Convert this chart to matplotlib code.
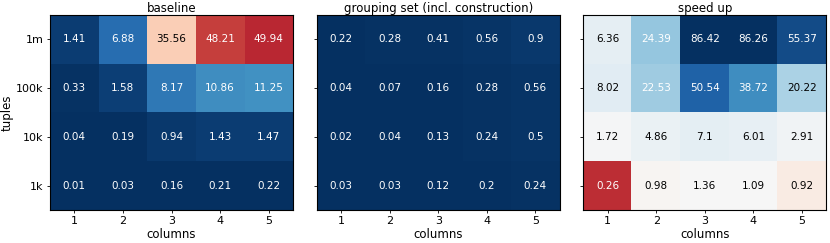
import matplotlib
import numpy as np
from matplotlib import pyplot as plt
from matplotlib.colors import Normalize, TwoSlopeNorm

matplotlib.use("Agg")

columns = ["1", "2", "3", "4", "5"]
tuples = ["1m", "100k", "10k", "1k"]

baseline = np.array([
    [1.41, 6.88, 35.56, 48.21, 49.94],
    [0.33, 1.58, 8.17, 10.86, 11.25],
    [0.04, 0.19, 0.94, 1.43, 1.47],
    [0.01, 0.03, 0.16, 0.21, 0.22],
])
grouping = np.array([
    [0.22, 0.28, 0.41, 0.56, 0.9],
    [0.04, 0.07, 0.16, 0.28, 0.56],
    [0.02, 0.04, 0.13, 0.24, 0.5],
    [0.03, 0.03, 0.12, 0.2, 0.24],
])
speedup = np.array([
    [6.36, 24.39, 86.42, 86.26, 55.37],
    [8.02, 22.53, 50.54, 38.72, 20.22],
    [1.72, 4.86, 7.1, 6.01, 2.91],
    [0.26, 0.98, 1.36, 1.09, 0.92],
])

panels = [
    (baseline, "baseline", "RdBu_r", Normalize(vmin=0, vmax=57)),
    (grouping, "grouping set (incl. construction)", "RdBu_r", Normalize(vmin=0, vmax=57)),
    (speedup, "speed up", "RdBu", TwoSlopeNorm(vmin=0, vcenter=1, vmax=62)),
]
lefts = [50 / 830, 316.7 / 830, 583.3 / 830]

fig = plt.figure(figsize=(8.3, 2.43), dpi=100)
for i, (data, title, cmap, norm) in enumerate(panels):
    ax = fig.add_axes([lefts[i], 1 - 210 / 243, 243 / 830, 195 / 243])
    ax.imshow(data, cmap=cmap, norm=norm, aspect="auto")
    for r in range(data.shape[0]):
        for c in range(data.shape[1]):
            v = data[r, c]
            n = norm(v)
            # light cells get dark text
            col = "white" if (n > 2 / 3 or n < 1 / 3) else "black"
            ax.text(c, r, f"{v:g}", ha="center", va="center", color=col, fontsize=7.5)
    ax.set_xticks(range(len(columns)))
    ax.set_xticklabels(columns, fontsize=8)
    ax.set_yticks(range(len(tuples)))
    if i == 0:
        ax.set_yticklabels(tuples, fontsize=8)
        ax.set_ylabel("tuples", fontsize=8.5, labelpad=2)
    else:
        ax.set_yticklabels([])
    ax.tick_params(length=2, width=0.6, pad=2.5)
    ax.set_xlabel("columns", fontsize=8.5, labelpad=1)
    ax.set_title(title, fontsize=8.5, pad=2)
    for s in ax.spines.values():
        s.set_linewidth(0.8)

plt.savefig("out.png", dpi=100)
plt.close(fig)
